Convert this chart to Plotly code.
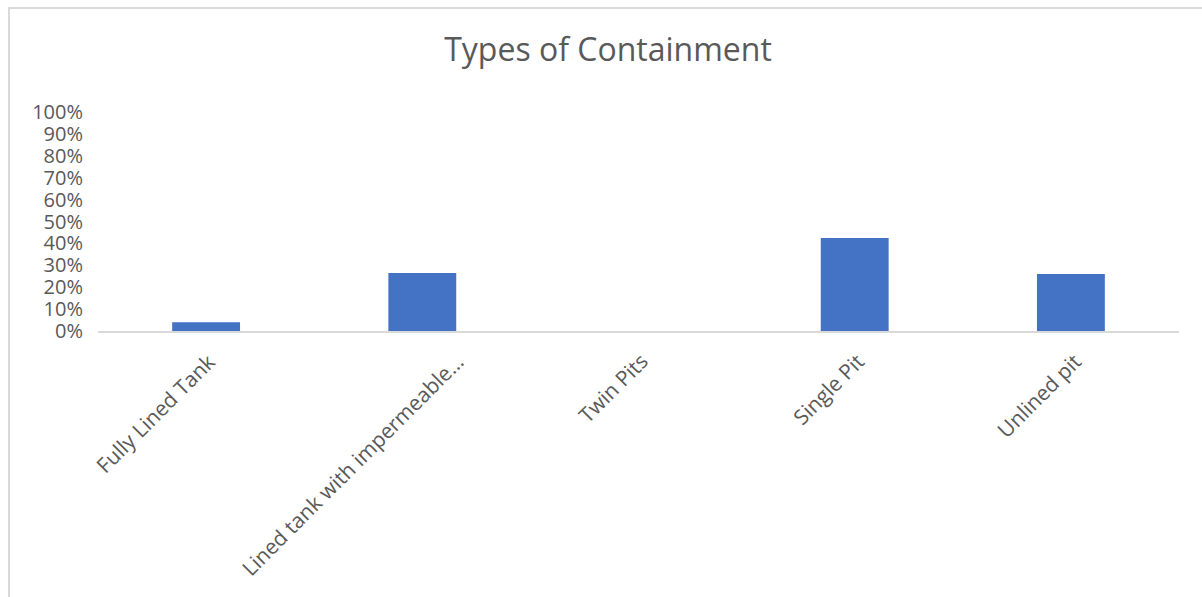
import plotly.graph_objects as go

categories = ["Fully Lined Tank", "Lined tank with impermeable…", "Twin Pits", "Single Pit", "Unlined pit"]
shares = [0.04, 0.265, 0.0, 0.425, 0.26]
tick_vals = [i / 10 for i in range(11)]
tick_text = [f"{i*10}%" for i in range(11)]

W, H = 1202, 597
L, R, T, B = 98, 23, 112, 266
pw, ph = W - L - R, H - T - B

fig = go.Figure(go.Bar(
    x=categories, y=shares,
    marker=dict(color="#4472C4", line=dict(width=0)),
))

font_fam = "Open Sans, Liberation Sans, sans-serif"
grey = "#595959"

fig.update_layout(
    width=W, height=H,
    margin=dict(l=L, r=R, t=T, b=B, autoexpand=False),
    paper_bgcolor="white", plot_bgcolor="white",
    bargap=0.686,
    showlegend=False,
    title=dict(text="Types of Containment", x=608 / W, xref="container", xanchor="center",
               y=1 - 50 / H, yref="container", yanchor="middle",
               font=dict(family=font_fam, size=32, color=grey)),
    font=dict(family=font_fam, color=grey),
)
fig.update_yaxes(range=[0, 1], tickvals=tick_vals, ticktext=tick_text, showgrid=False,
                 zeroline=False, showline=False, ticks="", ticklabelstandoff=14,
                 tickfont=dict(size=20, color=grey), automargin=False)
fig.update_xaxes(range=[-0.5, len(categories) - 0.5], showline=True, linecolor="#d9d9d9",
                 linewidth=1.5, ticks="", showticklabels=False, automargin=False, showgrid=False)

# rotated category labels
for cat in categories:
    fig.add_annotation(x=cat, y=0, xref="x", yref="y", text=cat, showarrow=False,
                       textangle=-45, xanchor="right", yanchor="top",
                       xshift=49 if cat.endswith("…") else 18, yshift=-14,
                       font=dict(family=font_fam, size=21, color=grey))

# chart frame border (left and top edges visible)
x_left = (9 - L) / pw
y_top = (H - B - 8) / ph
fig.add_shape(type="rect", xref="paper", yref="paper",
              x0=x_left, x1=1.2, y0=-3, y1=y_top,
              line=dict(color="#d9d9d9", width=2), fillcolor="rgba(0,0,0,0)", layer="below")

fig.write_html("out.html")
